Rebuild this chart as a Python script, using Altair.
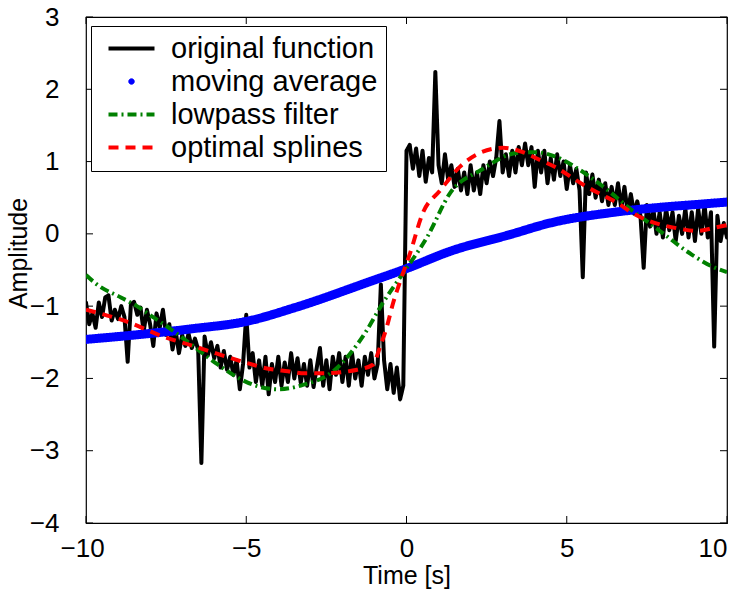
import altair as alt
import pandas as pd

# ---------------- data ----------------
series_order = ["original function", "moving average", "lowpass filter", "optimal splines"]
series_colors = ["#000000", "#0000ff", "#008000", "#ff0000"]
series_dashes = [[1, 0], [1, 0], [9, 4, 2, 4], [10, 7]]

x_ticks = [-10, -5, 0, 5, 10]
y_ticks = [-4, -3, -2, -1, 0, 1, 2, 3]

# original (noisy) signal, sampled every 0.1 s from -10 to 10
orig_t = [round(-10 + 0.1 * i, 1) for i in range(201)]
orig_v = [
    -0.95, -1.25, -1.10, -1.30, -0.95, -1.15, -0.88, -0.85, -1.20, -1.05,
    -1.18, -1.00, -1.15, -1.77, -0.98, -0.94, -1.12, -1.02, -1.35, -1.05,
    -1.25, -1.55, -1.10, -1.30, -1.05, -1.40, -1.25, -1.60, -1.35, -1.65,
    -1.40, -1.55, -1.38, -1.58, -1.45, -1.60, -3.17, -1.42, -1.68, -1.50,
    -1.72, -1.55, -1.85, -1.62, -1.88, -1.70, -1.95, -1.75, -2.15, -1.80,
    -1.12, -1.85, -1.65, -2.05, -1.75, -2.10, -1.70, -2.22, -1.80, -2.05,
    -1.70, -2.10, -1.78, -2.05, -1.65, -2.00, -1.72, -2.06, -1.80, -2.10,
    -1.75, -2.12, -1.85, -1.58, -2.10, -1.75, -2.15, -1.70, -1.95, -1.65,
    -2.05, -1.70, -2.10, -1.65, -2.00, -1.75, -2.10, -1.70, -1.95, -1.65,
    -2.00, -1.80, -0.70, -1.75, -2.15, -1.80, -2.20, -1.85, -2.29, -2.10,
    1.15, 1.23, 0.90, 1.18, 0.80, 1.15, 0.72, 1.05, 0.85, 2.24,
    0.95, 0.70, 1.10, 0.75, 0.95, 0.65, 0.90, 0.60, 0.85, 0.55,
    0.95, 0.60, 0.85, 0.55, 0.95, 0.70, 1.00, 0.80, 1.05, 1.56,
    0.85, 1.10, 0.80, 1.15, 0.85, 1.20, 0.95, 1.25, 0.95, 1.20,
    0.65, 1.15, 0.85, 1.15, 0.70, 1.05, 0.75, 1.10, 0.80, 1.00,
    0.62, 0.95, 0.70, 0.90, 0.60, -0.60, 0.85, 0.55, 0.82, 0.50,
    0.75, 0.45, 0.70, 0.40, 0.65, 0.40, 0.70, 0.35, 0.65, 0.30,
    0.55, 0.28, 0.45, 0.25, -0.47, 0.40, 0.10, 0.35, 0.00, 0.30,
    -0.05, 0.35, 0.05, 0.30, -0.10, 0.25, 0.00, 0.35, -0.05, 0.30,
    -0.10, 0.35, 0.00, 0.40, -0.05, 0.30, -1.56, 0.25, -0.10, 0.15,
    -0.05,
]

ma_t = [-10, -8.5, -6.63, -4.98, -3.48, -1.14, 0, 1.37, 3.23, 4.48, 6.5, 8.0, 9.16, 10]
ma_v = [-1.46, -1.40, -1.31, -1.21, -1.02, -0.66, -0.48, -0.24, -0.01, 0.15, 0.30, 0.37, 0.41, 0.44]

lp_t = [-10, -9.66, -8.91, -8.41, -7.88, -7.35, -6.72, -5.88, -5.26, -4.63, -4.0, -3.23,
        -2.23, -1.29, -0.73, -0.10, 0.65, 1.37, 2.31, 3.45, 4.01, 4.70, 5.32, 5.94, 6.35,
        6.91, 7.85, 8.91, 9.53, 10.0]
lp_v = [-0.57, -0.70, -0.88, -1.00, -1.16, -1.32, -1.53, -1.81, -1.99, -2.11, -2.15, -2.09,
        -1.88, -1.37, -0.95, -0.54, -0.04, 0.57, 0.88, 1.12, 1.13, 1.06, 0.91, 0.72, 0.58,
        0.37, 0.06, -0.29, -0.45, -0.53]

sp_t = [-10, -8.63, -7.6, -6.66, -6.04, -5.10, -4.26, -3.70, -3.17, -2.64, -1.54, -1.05,
        -0.83, -0.61, -0.42, -0.20, 0.11, 0.51, 1.05, 1.67, 2.29, 3.01, 3.63, 4.17, 4.70,
        5.19, 5.63, 6.10, 6.57, 7.04, 7.50, 8.00, 8.53, 9.06, 9.56, 10.0]
sp_v = [-1.05, -1.23, -1.42, -1.55, -1.64, -1.77, -1.87, -1.90, -1.93, -1.93, -1.88, -1.81,
        -1.57, -1.28, -0.96, -0.66, -0.27, 0.29, 0.60, 0.93, 1.12, 1.19, 1.13, 1.02, 0.91,
        0.77, 0.65, 0.54, 0.43, 0.29, 0.19, 0.12, 0.07, 0.04, 0.08, 0.12]

# ---------------- tables ----------------
frames = []
for name, tt, vv in [
    (series_order[0], orig_t, orig_v),
    (series_order[1], ma_t, ma_v),
    (series_order[2], lp_t, lp_v),
    (series_order[3], sp_t, sp_v),
]:
    frames.append(pd.DataFrame({"t": tt, "v": vv, "series": name}))
df = pd.concat(frames, ignore_index=True)
xt_df = pd.DataFrame({"t": x_ticks})
yt_df = pd.DataFrame({"v": y_ticks})

W, H = 641, 506
FONT = "Liberation Sans"
TICK = 7

is_ma = "datum.value == 'moving average'"
legend = alt.Legend(
    orient="none", legendX=5, legendY=9, title=None,
    fillColor="white", strokeColor="black", padding=8,
    labelFont=FONT, labelFontSize=29, labelColor="black", labelOffset=25,
    labelLimit=500, rowPadding=3, symbolOffset=18,
    symbolType=alt.ExprRef(expr=f"{is_ma} ? 'circle' : 'stroke'"),
    symbolSize=alt.ExprRef(expr=f"{is_ma} ? 30 : 2116"),
    symbolStrokeWidth=alt.ExprRef(expr=f"{is_ma} ? 1 : 4"),
    symbolFillColor=alt.ExprRef(expr=f"{is_ma} ? '#0000ff' : 'transparent'"),
)
color_enc = alt.Color("series:N", scale=alt.Scale(domain=series_order, range=series_colors), legend=legend)
dash_enc = alt.StrokeDash("series:N", scale=alt.Scale(domain=series_order, range=series_dashes), legend=legend)

xscale = alt.Scale(domain=[-10, 10], nice=False, zero=False)
yscale = alt.Scale(domain=[-4, 3], nice=False, zero=False)

ax_common = dict(grid=False, domain=False, ticks=False, labelFont=FONT, labelColor="black",
                 titleFont=FONT, titleColor="black", titleFontWeight="normal")

x_main = alt.Axis(orient="bottom", values=x_ticks, labelFontSize=26, labelPadding=12,
                  labelOffset={"condition": {"test": "datum.value == -10", "value": -26}, "value": 0},
                  format="d", title="Time [s]", titleFontSize=25, titlePadding=2, **ax_common)
y_main = alt.Axis(orient="left", values=y_ticks, labelFontSize=26, labelPadding=27,
                  format="d", title="Amplitude", titleFontSize=25, titleX=-55, titleY=236,
                  **ax_common)

base = alt.Chart(df)

def layer(name, width, xaxis, yaxis, cap="butt", interp="monotone"):
    return base.transform_filter(alt.datum.series == name).mark_line(
        strokeWidth=width, strokeCap=cap, strokeJoin="round", clip=True, interpolate=interp
    ).encode(
        x=alt.X("t:Q", scale=xscale, axis=xaxis),
        y=alt.Y("v:Q", scale=yscale, axis=yaxis),
        color=color_enc,
        strokeDash=dash_enc,
        order=alt.Order("t:Q"),
    )

l_orig = layer(series_order[0], 4, x_main, y_main, cap="round", interp="linear")
l_ma = layer(series_order[1], 9, None, None, cap="round")
l_lp = layer(series_order[2], 4, None, None)
l_sp = layer(series_order[3], 4, None, None)

# inward tick marks on all four sides of the frame
xt = alt.Chart(xt_df).mark_rule(color="black", strokeWidth=1)
yt = alt.Chart(yt_df).mark_rule(color="black", strokeWidth=1)
tick_bottom = xt.encode(x=alt.X("t:Q", scale=xscale, axis=None), y=alt.value(H), y2=alt.value(H - TICK))
tick_top = xt.encode(x=alt.X("t:Q", scale=xscale, axis=None), y=alt.value(0), y2=alt.value(TICK))
tick_left = yt.encode(y=alt.Y("v:Q", scale=yscale, axis=None), x=alt.value(0), x2=alt.value(TICK))
tick_right = yt.encode(y=alt.Y("v:Q", scale=yscale, axis=None), x=alt.value(W), x2=alt.value(W - TICK))

chart = alt.layer(
    l_orig, l_ma, l_lp, l_sp, tick_bottom, tick_top, tick_left, tick_right
).resolve_axis(
    x="independent", y="independent"
).properties(
    width=W, height=H,
    autosize=alt.AutoSizeParams(type="none"),
    padding={"left": 86, "top": 17, "right": 18, "bottom": 69},
    background="white",
).configure_view(
    stroke="black", strokeWidth=1.2
)

chart.save("out.html", embed_options={"renderer": "svg", "actions": False})
